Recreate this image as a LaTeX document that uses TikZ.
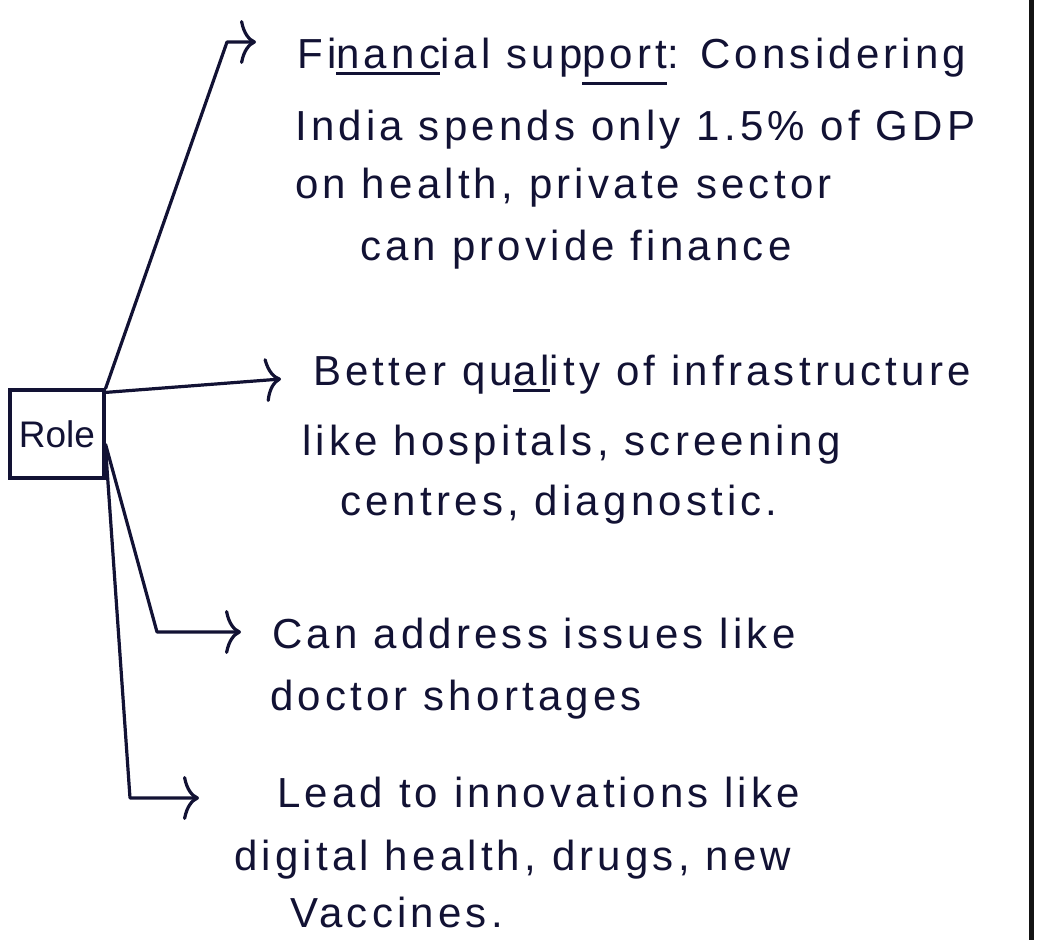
\documentclass[tikz,border=0pt]{standalone}
\usepackage{fontspec}
\setmainfont{Liberation Sans}
\newfontfamily\hand{Liberation Sans}[LetterSpace=10]
\usetikzlibrary{arrows.meta}
\definecolor{ink}{RGB}{18,18,52}
\definecolor{margin}{RGB}{20,20,20}
\newcommand{\inkul}[2]{\setbox0\hbox{#2}\rlap{\vrule height -#1pt depth \dimexpr#1pt+3pt\relax width \wd0}\box0}
\tikzset{
  conn/.style={draw=ink, line width=3.2pt, line cap=round, line join=round,
    -{Computer Modern Rightarrow[length=16pt,width=44pt]}},
  rolebox/.style={draw=ink, line width=3.2pt, rectangle, minimum width=94pt,
    minimum height=88pt, inner sep=0pt, text=ink, font=\fontsize{37}{40}\selectfont},
  handtext/.style={anchor=base west, inner sep=0pt, text=ink,
    font=\hand\fontsize{42}{48}\selectfont},
}
\begin{document}
\begin{tikzpicture}[x=1pt,y=-1pt]
\fill[white] (0,0) rectangle (1042,940);
\useasboundingbox (0,0) rectangle (1042,940);
% margin line
\coordinate (mtop) at (1031,0);
\coordinate (mbot) at (1031,940);
\draw[margin, line width=5pt] (mtop) -- (mbot);
% root
\node[rolebox] (role) at (57,434) {Role};
% text lines
\node[handtext] (b1a) at (297,68) {Fi\inkul{4}{nanc}ial sup\inkul{14}{port}: Considering};
\node[handtext] (b1b) at (295,140) {India spends only 1.5\% of GDP};
\node[handtext] (b1c) at (295,198) {on health, private sector};
\node[handtext] (b1d) at (360,260) {can provide finance};
\node[handtext] (b2a) at (313,385) {Better qu\inkul{4}{al}ity of infrastructure};
\node[handtext] (b2b) at (302,455) {like hospitals, screening};
\node[handtext] (b2c) at (340,515) {centres, diagnostic.};
\node[handtext] (b3a) at (272,648) {Can address issues like};
\node[handtext] (b3b) at (270,710) {doctor shortages};
\node[handtext] (b4a) at (277,807) {Lead to innovations like};
\node[handtext] (b4b) at (234,870) {digital health, drugs, new};
\node[handtext] (b4c) at (290,927) {Vaccines.};
% bend points and arrow tips
\coordinate (k1) at (227,42);
\coordinate (t1) at (256,42);
\coordinate (t2) at (281,379);
\coordinate (k3) at (157,632);
\coordinate (t3) at (241,632);
\coordinate (k4) at (130,798);
\coordinate (t4) at (199,798);
% connectors
\draw[conn] (role.north east) -- (k1) -- (t1);
\draw[conn] ([yshift=-4pt]role.north east) -- (t2);
\draw[conn] ([yshift=-56pt]role.north east) -- (k3) -- (t3);
\draw[conn] ([yshift=-60pt]role.north east) -- (k4) -- (t4);
\end{tikzpicture}
\end{document}
